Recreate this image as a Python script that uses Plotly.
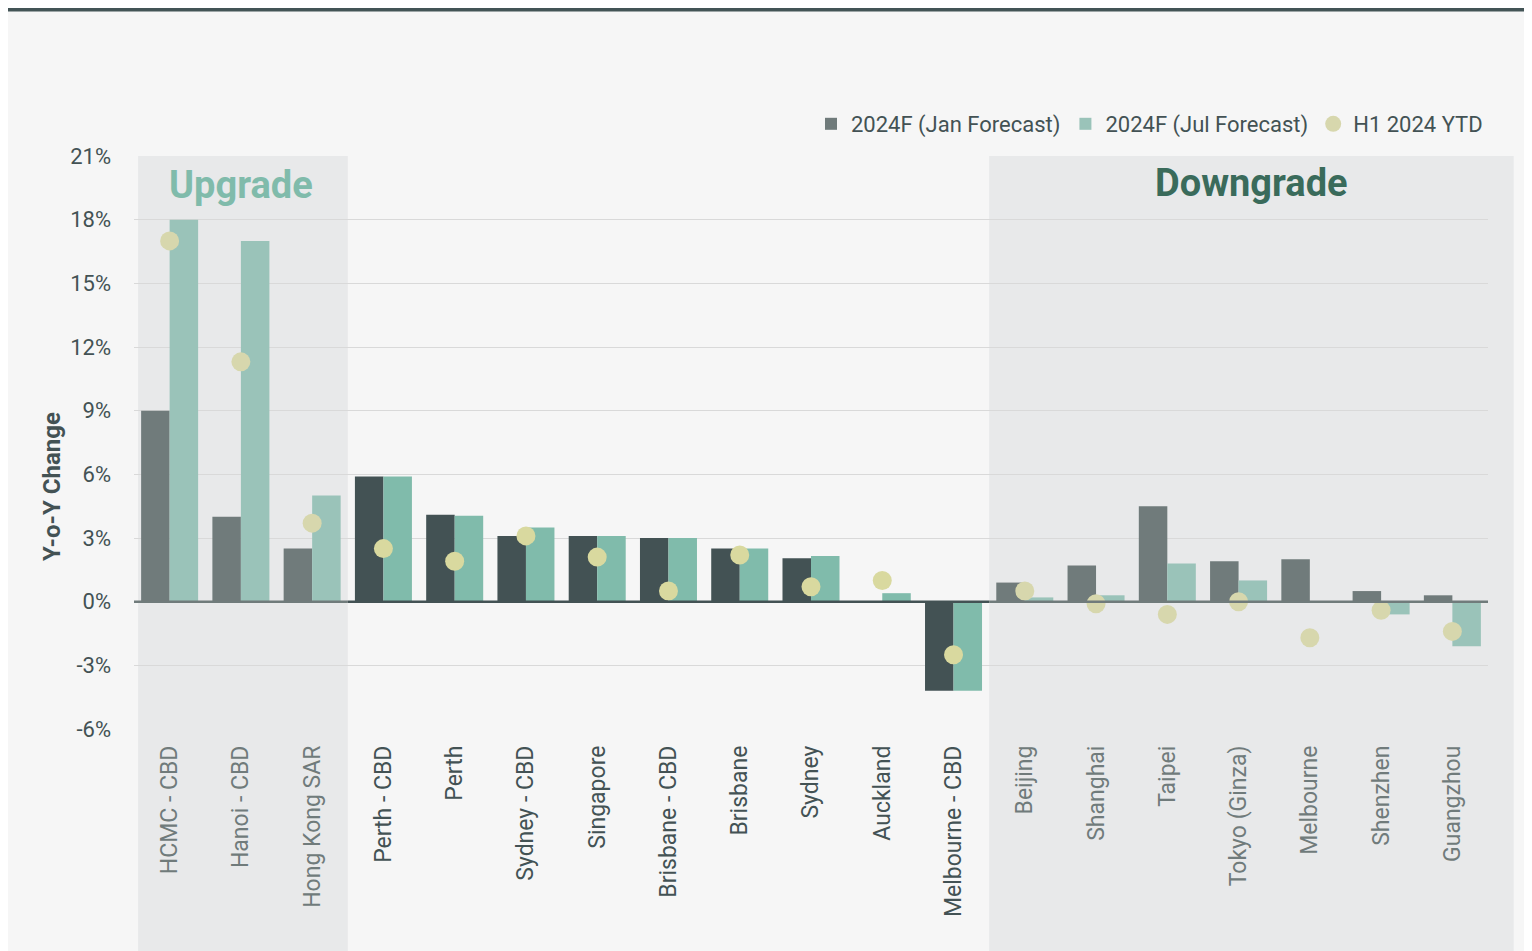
import plotly.graph_objects as go

# dati (variazione % a/a)
citta = ["HCMC - CBD", "Hanoi - CBD", "Hong Kong SAR", "Perth - CBD", "Perth",
         "Sydney - CBD", "Singapore", "Brisbane - CBD", "Brisbane", "Sydney",
         "Auckland", "Melbourne - CBD", "Beijing", "Shanghai", "Taipei",
         "Tokyo (Ginza)", "Melbourne", "Shenzhen", "Guangzhou"]
gruppo = ["up"] * 3 + ["mid"] * 9 + ["down"] * 7
jan_forecast = [9.0, 4.0, 2.5, 5.9, 4.1, 3.1, 3.1, 3.0, 2.5, 2.05, 0.0, -4.2,
                0.9, 1.7, 4.5, 1.9, 2.0, 0.5, 0.3]
jul_forecast = [18.0, 17.0, 5.0, 5.9, 4.05, 3.5, 3.1, 3.0, 2.5, 2.15, 0.4, -4.2,
                0.2, 0.3, 1.8, 1.0, 0.0, -0.6, -2.1]
h1_ytd = [17.0, 11.3, 3.7, 2.5, 1.9, 3.1, 2.1, 0.5, 2.2, 0.7, 1.0, -2.5,
          0.5, -0.1, -0.6, 0.0, -1.7, -0.4, -1.4]
y_ticks = [-6, -3, 0, 3, 6, 9, 12, 15, 18, 21]

DARK = "#435254"
TEAL = "#80bbab"
DARK_DIM = "#707b7b"
TEAL_DIM = "#9ac3b9"
DOT = "#d9d99f"
DOT_DIM = "#d7d7ad"
TXT = "#435254"
SHADE = "#e8e9ea"
BG = "#f6f6f6"
FONT = "Roboto"

# la pagina ha un margine di 8px: la figura e' 1524x943
W, H = 1524, 943
ML, MR, MT, MB = 126, 44, 148, 222
PH = H - MT - MB
PW = W - ML - MR

n = len(citta)
xs = list(range(n))
dim = [g != "mid" for g in gruppo]

fig = go.Figure()
fig.add_trace(go.Bar(x=xs, y=jan_forecast, name="2024F (Jan Forecast)",
                     marker=dict(color=[DARK_DIM if d else DARK for d in dim], line_width=0)))
fig.add_trace(go.Bar(x=xs, y=jul_forecast, name="2024F (Jul Forecast)",
                     marker=dict(color=[TEAL_DIM if d else TEAL for d in dim], line_width=0)))
fig.add_trace(go.Scatter(x=xs, y=h1_ytd, name="H1 2024 YTD", mode="markers",
                         marker=dict(size=19, color=[DOT_DIM if d else DOT for d in dim])))

# zone Upgrade / Downgrade
fig.add_shape(type="rect", xref="paper", yref="paper", x0=0.003, x1=3 / n,
              y0=-0.4, y1=1, fillcolor=SHADE, line_width=0, layer="below")
fig.add_shape(type="rect", xref="paper", yref="paper", x0=12 / n, x1=1.019,
              y0=-0.4, y1=1, fillcolor=SHADE, line_width=0, layer="below")
# linea dello zero: scura al centro, grigia nelle zone evidenziate
for a, b, c in [(-0.5, 2.5, DARK_DIM), (2.5, 11.5, DARK), (11.5, 18.5, DARK_DIM)]:
    fig.add_shape(type="line", xref="x", yref="y", x0=a, x1=b, y0=0, y1=0,
                  line=dict(color=c, width=2.5), layer="above")
# barra scura in alto
top = 1 + MT / PH
fig.add_shape(type="rect", xref="paper", yref="paper", x0=-0.2, x1=1.1,
              y0=top - 3.5 / PH, y1=top + 0.01, fillcolor="#435456", line_width=0)

fig.add_annotation(xref="paper", yref="paper", x=1.5 / n, y=1 - 29 / PH, xanchor="center",
                   yanchor="middle", text="<b>Upgrade</b>", showarrow=False,
                   font=dict(family=FONT, size=38, color=TEAL))
fig.add_annotation(xref="paper", yref="paper", x=(12 / n + 1.019) / 2, y=1 - 27 / PH,
                   xanchor="center", yanchor="middle", text="<b>Downgrade</b>",
                   showarrow=False, font=dict(family=FONT, size=38, color="#3a6b5b"))
# titolo asse y (non centrato sull'area del grafico)
fig.add_annotation(xref="paper", yref="paper", x=-82 / PW, y=242 / PH,
                   xanchor="center", yanchor="middle", textangle=-90,
                   text="<b>Y-o-Y Change</b>", showarrow=False,
                   font=dict(family=FONT, size=24, color=TXT))

ticktext = [f'<span style="color:{DARK_DIM if d else TXT}">{c}</span>'
            for c, d in zip(citta, dim)]

fig.update_layout(
    width=W, height=H,
    paper_bgcolor=BG, plot_bgcolor="rgba(0,0,0,0)",
    margin=dict(l=ML, r=MR, t=MT, b=MB),
    barmode="group", bargap=0.2, bargroupgap=0,
    font=dict(family=FONT, size=22, color=TXT),
    showlegend=True,
    legend=dict(orientation="h", x=1.0, xanchor="right", y=1 + 32 / PH, yanchor="middle",
                font=dict(family=FONT, size=22, color=TXT), bgcolor="rgba(0,0,0,0)",
                itemwidth=30, tracegroupgap=0),
    xaxis=dict(tickmode="array", tickvals=xs, ticktext=ticktext, tickangle=-90,
               range=[-0.5, n - 0.5], showgrid=False, zeroline=False, showline=False,
               ticks="", ticklabelstandoff=11, tickfont=dict(family=FONT, size=23)),
    yaxis=dict(range=[-6, 21], tickvals=y_ticks, ticktext=[f"{v}%" for v in y_ticks],
               showgrid=True, gridcolor="#d9d9d9", gridwidth=1, zeroline=False,
               showline=False, ticks="", ticklabelstandoff=22,
               tickfont=dict(family=FONT, size=22, color=TXT)),
)

fig.write_html("out.html")
